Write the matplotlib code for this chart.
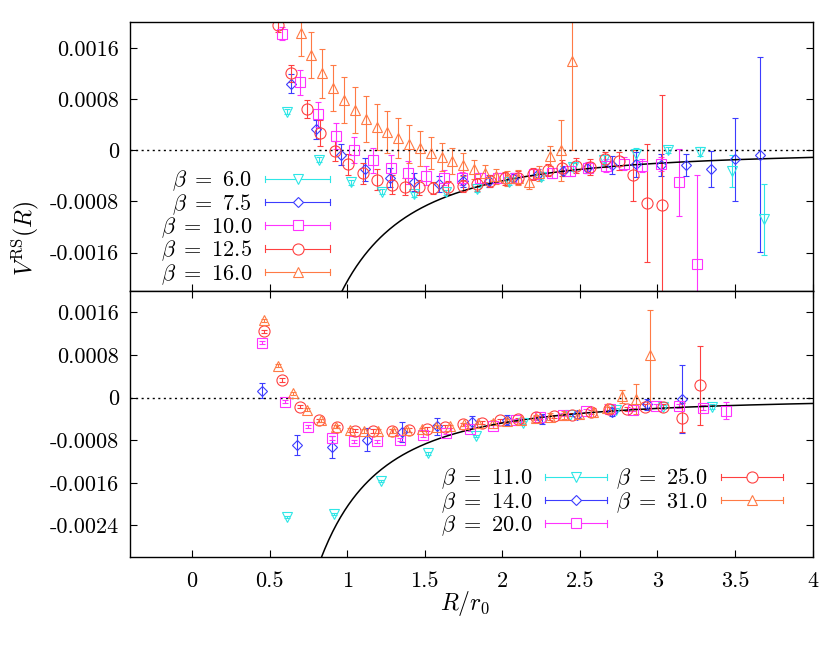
import numpy as np
import matplotlib
matplotlib.use("Agg")
import matplotlib.pyplot as plt
from matplotlib.lines import Line2D
from matplotlib.legend_handler import HandlerBase

plt.rcParams['font.family'] = 'serif'
plt.rcParams['font.serif'] = ['cmr10']
plt.rcParams['mathtext.fontset'] = 'cm'
plt.rcParams['axes.unicode_minus'] = False
plt.rcParams['axes.formatter.use_mathtext'] = True

# ---- top panel data ----
b60_R = [0.613, 0.817, 1.022, 1.226, 1.430, 1.635, 1.839, 2.045, 2.248, 2.454, 2.656, 2.863, 3.071, 3.275, 3.480, 3.684]
b60_V = [0.00060, -0.00015, -0.00050, -0.00065, -0.00069, -0.00066, -0.00061, -0.00050, -0.00042, -0.00026,
         -0.00015, -0.00006, 0.0, -0.00002, -0.00032, -0.00108]
b60_E = [0.00004, 0.00004, 0.00004, 0.00004, 0.00004, 0.00004, 0.00004, 0.00005, 0.00005, 0.00006,
         0.00008, 0.0001, 0.00005, 0.00007, 0.00025, 0.00056]

b75_R = [0.637, 0.798, 0.957, 1.116, 1.275, 1.432, 1.594, 1.748, 1.916, 2.071, 2.232, 2.390, 2.548, 2.706,
         2.863, 3.022, 3.185, 3.345, 3.501, 3.663]
b75_V = [0.00104, 0.00033, -0.00007, -0.00030, -0.00043, -0.00049, -0.00053, -0.00048, -0.00048, -0.00043,
         -0.00037, -0.00032, -0.00028, -0.00023, -0.00022, -0.00023, -0.00023, -0.00029, -0.00014, -0.00007]
b75_E = [0.00015, 0.00015, 0.00016, 0.00018, 0.00015, 0.00014, 0.00012, 0.0001, 0.0001, 0.00008,
         0.00008, 0.00008, 0.00008, 0.00014, 0.0002, 0.00017, 0.00017, 0.00028, 0.00065, 0.00152]

b100_R = [0.583, 0.699, 0.815, 0.931, 1.047, 1.164, 1.280, 1.394, 1.510, 1.626, 1.742, 1.858, 1.974, 2.090,
          2.206, 2.322, 2.438, 2.554, 2.670, 2.786, 2.902, 3.026, 3.142, 3.258]
b100_V = [0.00182, 0.00106, 0.00056, 0.00022, 0.0, -0.00016, -0.00027, -0.00035, -0.00040, -0.00043,
          -0.00044, -0.00043, -0.00043, -0.00043, -0.00037, -0.00035, -0.00032, -0.00027, -0.00024, -0.00021,
          -0.00024, -0.00021, -0.00050, -0.00178]
b100_E = [0.0001, 0.00019, 0.0002, 0.0002, 0.0002, 0.0002, 0.0002, 0.00018, 0.00015, 0.00012,
          0.0001, 0.00008, 0.00008, 0.00008, 0.00008, 0.00008, 0.00008, 0.00008, 0.0001, 0.0001,
          0.0001, 0.00011, 0.00052, 0.0014]

b125_R = [0.551, 0.641, 0.738, 0.824, 0.919, 1.006, 1.099, 1.190, 1.286, 1.372, 1.465, 1.555, 1.652, 1.745,
          1.835, 1.921, 2.017, 2.103, 2.200, 2.297, 2.383, 2.476, 2.566, 2.663, 2.753, 2.845, 2.935, 3.028]
b125_V = [0.00195, 0.00120, 0.00065, 0.00027, -0.00001, -0.00022, -0.00036, -0.00046, -0.00054, -0.00057,
          -0.00058, -0.00059, -0.00058, -0.00056, -0.00053, -0.00048, -0.00044, -0.00043, -0.00037, -0.00031,
          -0.00028, -0.00024, -0.00026, -0.00014, -0.00017, -0.00039, -0.00083, -0.00086]
b125_E = [0.0001, 0.00013, 0.00014, 0.0002, 0.00016, 0.00016, 0.00016, 0.00016, 0.00015, 0.00013,
          0.00012, 0.0001, 0.0001, 0.0001, 0.0001, 0.0001, 0.0001, 0.0001, 0.0001, 0.0001,
          0.00012, 0.00012, 0.00012, 0.00012, 0.00014, 0.0004, 0.00092, 0.00173]

b160_R = [0.701, 0.770, 0.839, 0.910, 0.981, 1.052, 1.121, 1.190, 1.258, 1.329, 1.400, 1.469, 1.538, 1.609,
          1.677, 1.748, 1.817, 1.888, 1.959, 2.028, 2.099, 2.172, 2.239, 2.308, 2.379, 2.452]
b160_V = [0.00184, 0.00149, 0.00120, 0.00098, 0.00079, 0.00063, 0.00049, 0.00037, 0.00028, 0.00019,
          0.00010, 0.00003, -0.00004, -0.00010, -0.00017, -0.00023, -0.00030, -0.00036, -0.00041, -0.00044,
          -0.00043, -0.00050, -0.00036, -0.00009, 0.0, 0.00139]
b160_E = [0.00036, 0.00036, 0.00038, 0.00036, 0.00036, 0.00036, 0.00036, 0.00036, 0.00033, 0.00031,
          0.0003, 0.00027, 0.00025, 0.00022, 0.0002, 0.00018, 0.00015, 0.00013, 0.00012, 0.00012,
          0.00012, 0.0001, 0.00012, 0.00015, 0.00048, 0.00139]

# ---- bottom panel data ----
b110_R = [0.609, 0.914, 1.217, 1.523, 1.828, 2.134, 2.439, 2.730, 3.039, 3.351]
b110_V = [-0.00225, -0.00219, -0.00156, -0.00105, -0.00072, -0.00047, -0.00033, -0.00023, -0.00017, -0.00017]
b110_E = [0.00002, 0.00002, 0.00002, 0.00002, 0.00002, 0.00002, 0.00002, 0.00003, 0.00003, 0.00005]

b140_R = [0.452, 0.677, 0.899, 1.125, 1.351, 1.577, 1.803, 2.028, 2.254, 2.480, 2.706, 2.932, 3.158]
b140_V = [0.000125, -0.00089, -0.00093, -0.00079, -0.00065, -0.00054, -0.00046, -0.00042, -0.00040,
          -0.00033, -0.00027, -0.00013, -0.00003]
b140_E = [0.00014, 0.00019, 0.0002, 0.00021, 0.00019, 0.00016, 0.00012, 0.0001, 0.0001, 0.00007,
          0.00007, 0.00011, 0.00064]

b200_R = [0.452, 0.596, 0.748, 0.899, 1.045, 1.194, 1.340, 1.490, 1.637, 1.792, 1.941, 2.090, 2.240, 2.390,
          2.541, 2.693, 2.843, 2.993, 3.142, 3.293, 3.441]
b200_V = [0.00103, -0.00008, -0.00055, -0.00076, -0.00082, -0.00082, -0.00079, -0.00071, -0.00066, -0.00060,
          -0.00054, -0.00043, -0.00037, -0.00032, -0.00025, -0.00021, -0.00023, -0.00016, -0.00016, -0.00019,
          -0.00025]
b200_E = [0.00003, 0.00003, 0.00003, 0.00003, 0.00003, 0.00003, 0.00003, 0.00003, 0.00003, 0.00003,
          0.00003, 0.00003, 0.00003, 0.00003, 0.00003, 0.00003, 0.00003, 0.00003, 0.00004, 0.00005, 0.00016]

b250_R = [0.467, 0.583, 0.699, 0.819, 0.935, 1.050, 1.168, 1.286, 1.400, 1.512, 1.630, 1.748, 1.866, 1.983,
          2.100, 2.217, 2.334, 2.452, 2.569, 2.686, 2.805, 2.921, 3.037, 3.156, 3.274]
b250_V = [0.00124, 0.00033, -0.00017, -0.00043, -0.00055, -0.00062, -0.00063, -0.00063, -0.00061, -0.00059,
          -0.00055, -0.00050, -0.00047, -0.00043, -0.00041, -0.00037, -0.00035, -0.00032, -0.00027, -0.00021,
          -0.00022, -0.00017, -0.00017, -0.00038, 0.00023]
b250_E = [0.00003, 0.00003, 0.00003, 0.00003, 0.00003, 0.00003, 0.00003, 0.00003, 0.00003, 0.00003,
          0.00003, 0.00003, 0.00003, 0.00003, 0.00003, 0.00003, 0.00003, 0.00003, 0.00004, 0.00004,
          0.00004, 0.00005, 0.00005, 0.00027, 0.00074]

b310_R = [0.463, 0.557, 0.650, 0.744, 0.832, 0.931, 1.017, 1.110, 1.200, 1.293, 1.387, 1.480, 1.572, 1.663,
          1.755, 1.845, 1.938, 2.030, 2.123, 2.215, 2.308, 2.400, 2.493, 2.585, 2.677, 2.770, 2.862, 2.955]
b310_V = [0.00145, 0.00060, 0.00008, -0.00023, -0.00043, -0.00055, -0.00061, -0.00063, -0.00063, -0.00063,
          -0.00061, -0.00060, -0.00055, -0.00054, -0.00050, -0.00047, -0.00047, -0.00044, -0.00043, -0.00038,
          -0.00036, -0.00033, -0.00031, -0.00028, -0.00020, 0.00002, -0.00003, 0.00079]
b310_E = [0.00003, 0.00003, 0.00003, 0.00003, 0.00003, 0.00003, 0.00003, 0.00003, 0.00003, 0.00003,
          0.00003, 0.00003, 0.00003, 0.00003, 0.00003, 0.00003, 0.00004, 0.00004, 0.00005, 0.00005,
          0.00007, 0.00008, 0.00008, 0.00008, 0.00008, 0.00013, 0.00028, 0.00085]

# reference curve V(R) = -C / R^P
curve_C = 0.00205
curve_P = 2.1

col = {'cyan': '#2ee6e6', 'blue': '#3c3cff', 'mag': '#ff33ff', 'red': '#ff4040', 'orange': '#ff7a45'}

top_sets = [
    (r'$\beta\ =\ 6.0$', b60_R, b60_V, b60_E, col['cyan'], 'v', 7.5),
    (r'$\beta\ =\ 7.5$', b75_R, b75_V, b75_E, col['blue'], 'D', 5.5),
    (r'$\beta\ =\ 10.0$', b100_R, b100_V, b100_E, col['mag'], 's', 7.5),
    (r'$\beta\ =\ 12.5$', b125_R, b125_V, b125_E, col['red'], 'o', 8),
    (r'$\beta\ =\ 16.0$', b160_R, b160_V, b160_E, col['orange'], '^', 7.5),
]
bot_sets = [
    (r'$\beta\ =\ 11.0$', b110_R, b110_V, b110_E, col['cyan'], 'v', 7.5),
    (r'$\beta\ =\ 14.0$', b140_R, b140_V, b140_E, col['blue'], 'D', 5.5),
    (r'$\beta\ =\ 20.0$', b200_R, b200_V, b200_E, col['mag'], 's', 7.5),
    (r'$\beta\ =\ 25.0$', b250_R, b250_V, b250_E, col['red'], 'o', 8),
    (r'$\beta\ =\ 31.0$', b310_R, b310_V, b310_E, col['orange'], '^', 7.5),
]


class CapHandler(HandlerBase):
    # gnuplot style key: line with end caps and the symbol in the middle
    def create_artists(self, legend, orig_handle, xdescent, ydescent, width, height, fontsize, trans):
        c = orig_handle.get_color()
        y = height / 2 - ydescent
        x0, x1 = -xdescent, width - xdescent
        h = 2.3
        arts = [Line2D([x0, x1], [y, y], color=c, lw=0.8),
                Line2D([x0, x0], [y - h, y + h], color=c, lw=0.8),
                Line2D([x1, x1], [y - h, y + h], color=c, lw=0.8),
                Line2D([(x0 + x1) / 2], [y], ls='none', marker=orig_handle.get_marker(),
                       ms=orig_handle.get_markersize(), mfc='white', mec=c, mew=0.8)]
        for a in arts:
            a.set_transform(trans)
        return arts


def draw_panel(ax, sets):
    handles = []
    for lab, R, V, E, c, m, ms in sets:
        ax.errorbar(R, V, yerr=E, fmt=m, color=c, mfc='none', mec=c, ms=ms, mew=0.8,
                    elinewidth=0.8, capsize=2.2, capthick=0.8)
        handles.append(Line2D([], [], color=c, marker=m, ms=ms, label=lab))
    r = np.linspace(0.6, 4.0, 400)
    ax.plot(r, -curve_C / r ** curve_P, color='black', lw=1.1)
    ax.axhline(0, color='black', ls=(0, (1.5, 2.5)), lw=1.0)
    ax.set_xlim(-0.4, 4.0)
    ax.set_xticks([0, 0.5, 1, 1.5, 2, 2.5, 3, 3.5, 4])
    ax.tick_params(direction='in', length=5, width=0.8, labelsize=16, right=True, pad=8)
    for s in ax.spines.values():
        s.set_linewidth(1.0)
    return handles


fig = plt.figure(figsize=(8.27, 6.5), dpi=100)
ax1 = fig.add_axes([0.1572, 0.5523, 0.8253, 0.4134])
ax2 = fig.add_axes([0.1572, 0.1426, 0.8253, 0.4097])

h1 = draw_panel(ax1, top_sets)
ax1.set_ylim(-0.0022, 0.002)
ax1.set_yticks([0.0016, 0.0008, 0, -0.0008, -0.0016])
ax1.set_yticklabels(['0.0016', '0.0008', '0', '-0.0008', '-0.0016'])
ax1.tick_params(axis='x', labelbottom=False, top=False, bottom=True)

h2 = draw_panel(ax2, bot_sets)
ax2.set_ylim(-0.003, 0.002)
ax2.set_yticks([0.0016, 0.0008, 0, -0.0008, -0.0016, -0.0024])
ax2.set_yticklabels(['0.0016', '0.0008', '0', '-0.0008', '-0.0016', '-0.0024'])
ax2.set_xticklabels(['0', '0.5', '1', '1.5', '2', '2.5', '3', '3.5', '4'])
ax2.tick_params(axis='x', top=True, pad=10)

leg1 = ax1.legend(handles=h1, handler_map={Line2D: CapHandler()}, loc='upper left',
                  bbox_to_anchor=(0.045, 0.455), frameon=False, markerfirst=False, fontsize=16,
                  handlelength=2.9, handletextpad=0.6, labelspacing=-0.06, borderpad=0, borderaxespad=0)
leg2 = ax2.legend(handles=h2, handler_map={Line2D: CapHandler()}, loc='upper left',
                  bbox_to_anchor=(0.455, 0.34), frameon=False, markerfirst=False, fontsize=16, ncol=2,
                  handlelength=2.8, handletextpad=0.6, labelspacing=-0.06, columnspacing=0.4,
                  borderpad=0, borderaxespad=0)

fig.text(465 / 827, 1 - 603 / 650, r'$R/r_0$', fontsize=17, ha='center', va='center')
fig.text(25 / 827, 1 - 238 / 650, r'$V^{\mathrm{RS}}(R)$', fontsize=17, ha='center', va='center',
         rotation=90)

fig.savefig('out.png', dpi=100)
